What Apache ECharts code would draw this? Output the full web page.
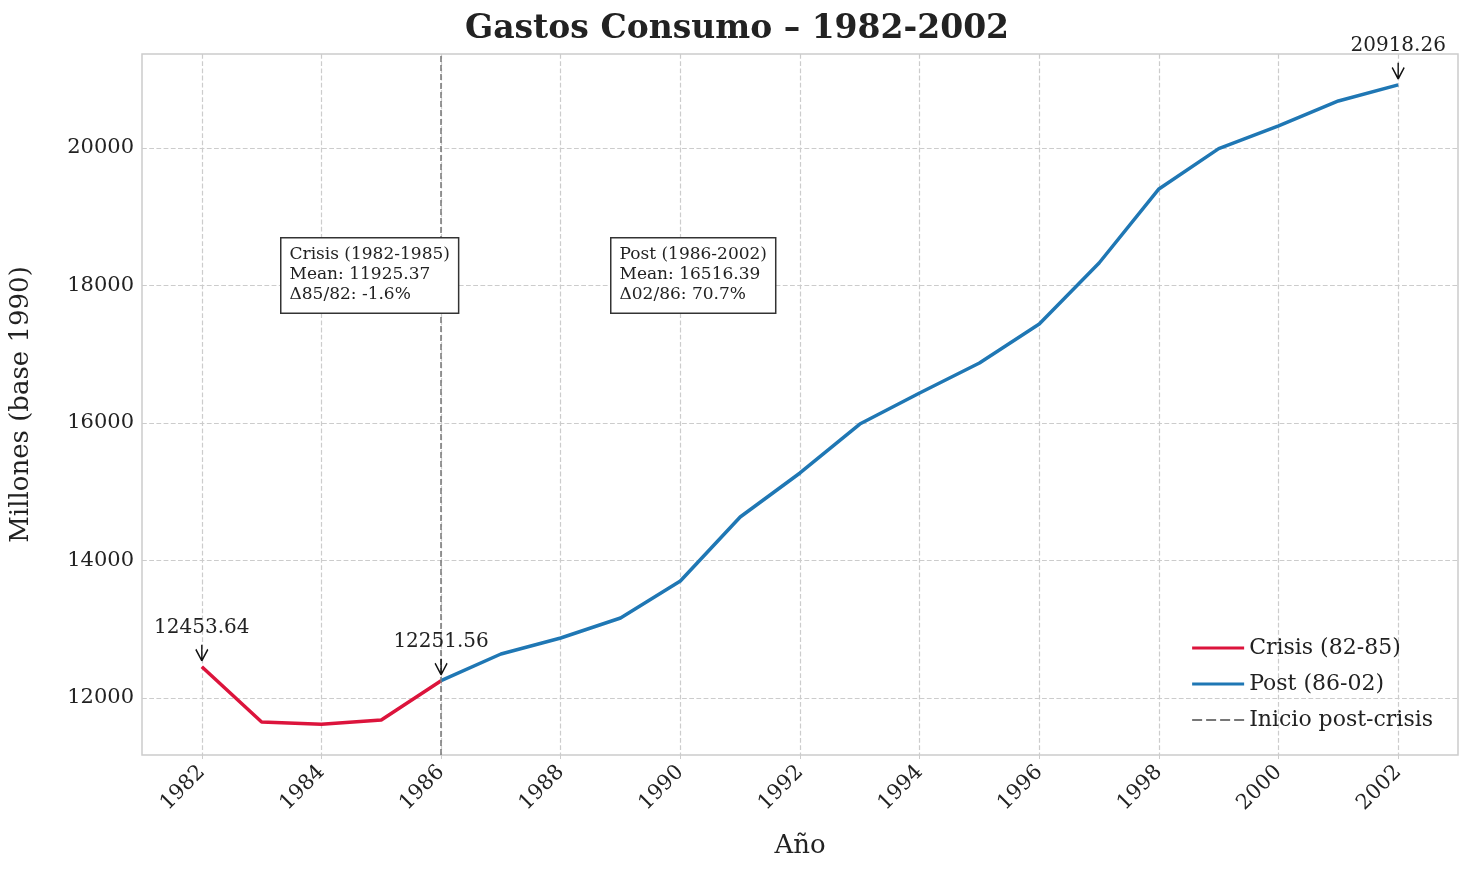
<!DOCTYPE html>
<html><head><meta charset="utf-8">
<script src="https://cdn.jsdelivr.net/npm/echarts@6/dist/echarts.min.js"></script>
<style>html,body{margin:0;padding:0;background:#fff}#c{width:1474px;height:876px}</style>
</head><body><div id="c"></div>
<script>
// datos
const crisisYears = [1982, 1983, 1984, 1985, 1986];
const crisisValues = [12453.64, 11650, 11620, 11680, 12251.56];
const postYears = [1986, 1987, 1988, 1989, 1990, 1991, 1992, 1993, 1994, 1995, 1996, 1997, 1998, 1999, 2000, 2001, 2002];
const postValues = [12251.56, 12640, 12873, 13164, 13702, 14633, 15273, 15985, 16436, 16873, 17440, 18327, 19404, 19990, 20320, 20684, 20918.26];
const xTicks = [1982, 1984, 1986, 1988, 1990, 1992, 1994, 1996, 1998, 2000, 2002];
const yTicks = [12000, 14000, 16000, 18000, 20000];

const font = 'DejaVu Serif';
const pair = (xs, ys) => xs.map((x, i) => [x, ys[i]]);

function tag(coord, text) {
  return {
    coord, value: text, symbol: 'path://M0,0 L5,-10 M0,0 L-5,-10 M0,0 L0,-14',
    symbolSize: [12, 16], symbolOffset: [0, -14],
    itemStyle: { color: 'none', borderColor: '#111', borderWidth: 1.6 },
    label: { show: true, position: 'top', distance: 4, color: '#222', fontSize: 20, fontFamily: font, formatter: text }
  };
}

const chart = echarts.init(document.getElementById('c'));
chart.setOption({
  animation: false,
  textStyle: { fontFamily: font },
  title: { text: 'Gastos Consumo – 1982-2002', left: 'center', top: 8,
    textStyle: { fontSize: 33, fontWeight: 'bold', color: '#222', fontFamily: font } },
  grid: { left: 138, right: 16, top: 54, bottom: 121, show: true, borderColor: '#ccc', borderWidth: 1.5 },
  legend: {
    right: 36, bottom: 140, orient: 'vertical', itemWidth: 52, itemHeight: 3, itemGap: 14,
    textStyle: { fontSize: 22, color: '#222', fontFamily: font },
    data: [
      { name: 'Crisis (82-85)', icon: 'rect' },
      { name: 'Post (86-02)', icon: 'rect' },
      { name: 'Inicio post-crisis', icon: 'path://M0,0 H10 V2 H0 Z M14,0 H24 V2 H14 Z M28,0 H38 V2 H28 Z M42,0 H52 V2 H42 Z' }]
  },
  xAxis: {
    type: 'value', min: 1981, max: 2003,
    name: 'Año', nameLocation: 'middle', nameGap: 78, nameTextStyle: { fontSize: 26, color: '#222', fontFamily: font },
    axisLine: { show: false }, axisTick: { show: true, customValues: xTicks, length: 4, lineStyle: { color: '#ccc' } },
    axisLabel: { customValues: xTicks, rotate: 45, fontSize: 21, color: '#222', margin: 14, fontFamily: font, formatter: v => String(v) },
    splitLine: { show: true, lineStyle: { type: 'dashed', color: '#ccc', width: 1.2 } }
  },
  yAxis: {
    type: 'value', min: 11171, max: 21367,
    name: 'Millones (base 1990)', nameLocation: 'middle', nameGap: 108, nameTextStyle: { fontSize: 26, color: '#222', fontFamily: font },
    axisLine: { show: false }, axisTick: { show: false, customValues: yTicks },
    axisLabel: { customValues: yTicks, fontSize: 21, color: '#222', margin: 8, fontFamily: font, formatter: v => String(v) },
    splitLine: { show: true, lineStyle: { type: 'dashed', color: '#ccc', width: 1.2 } }
  },
  series: [
    { name: 'Crisis (82-85)', type: 'line', data: pair(crisisYears, crisisValues), showSymbol: false,
      lineStyle: { color: '#dc143c', width: 3.5 }, itemStyle: { color: '#dc143c' }, z: 3,
      markPoint: { data: [tag([1982, 12453.64], '12453.64')] } },
    { name: 'Post (86-02)', type: 'line', data: pair(postYears, postValues), showSymbol: false,
      lineStyle: { color: '#1f77b4', width: 3.5 }, itemStyle: { color: '#1f77b4' }, z: 3,
      markPoint: { data: [tag([1986, 12251.56], '12251.56'), tag([2002, 20918.26], '20918.26')] } },
    { name: 'Inicio post-crisis', type: 'line', data: [], itemStyle: { color: '#777' },
      lineStyle: { color: '#777', type: 'dashed', width: 1.5 },
      markLine: { symbol: 'none', silent: true, label: { show: false },
        lineStyle: { color: '#777', type: 'dashed', width: 1.5 }, data: [{ xAxis: 1986 }] } }
  ],
  graphic: [
    { type: 'text', left: 280, top: 237, z: 10, style: {
      text: 'Crisis (1982-1985)\nMean: 11925.37\nΔ85/82: -1.6%', font: '17px "DejaVu Serif"', fill: '#222', lineHeight: 20,
      backgroundColor: '#fff', borderColor: '#333', borderWidth: 1.5, padding: [6, 8, 8, 8] } },
    { type: 'text', left: 610, top: 237, z: 10, style: {
      text: 'Post (1986-2002)\nMean: 16516.39\nΔ02/86: 70.7%', font: '17px "DejaVu Serif"', fill: '#222', lineHeight: 20,
      backgroundColor: '#fff', borderColor: '#333', borderWidth: 1.5, padding: [6, 8, 8, 8] } }
  ]
});
</script></body></html>
